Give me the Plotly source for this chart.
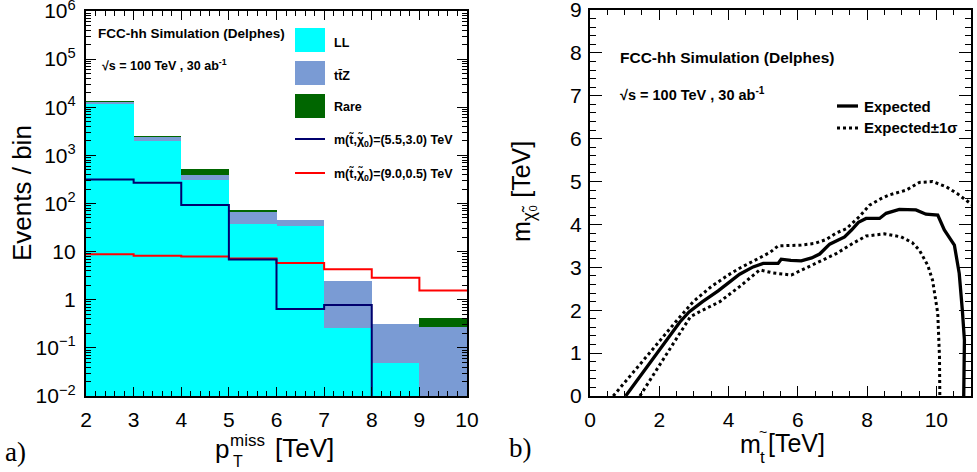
import plotly.graph_objects as go

# ---------------- data: panel a) ----------------
bin_edges = [2, 3, 4, 5, 6, 7, 8, 9, 10]
bin_centers = [2.5, 3.5, 4.5, 5.5, 6.5, 7.5, 8.5, 9.5]
ll_vals = [11700, 1950, 307, 37.3, 33.9, 0.26, 0.049, 0]
ttz_vals = [1300, 500, 93, 32, 11.3, 2.19, 0.26, 0.27]
rare_vals = [300, 60, 125, 2, 0, 0, 0, 0.15]
sig1_vals = [316, 270, 93, 6.9, 0.64, 0.78, 0, 0]       # m(stop,chi0)=(5.5,3.0)
sig2_vals = [8.8, 8.2, 7.9, 7.2, 5.8, 4.3, 2.85, 1.55]  # m(stop,chi0)=(9.0,0.5)
y_tickvals = [0.01, 0.1, 1, 10, 100, 1e3, 1e4, 1e5, 1e6]
y_ticktext = ["10<sup>\u22122</sup>", "10<sup>\u22121</sup>", "1", "10", "10<sup>2</sup>",
              "10<sup>3</sup>", "10<sup>4</sup>", "10<sup>5</sup>", "10<sup>6</sup>"]

# ---------------- data: panel b) ----------------
exp_x = [1.03, 1.6, 2.2, 2.59, 2.86, 3.25, 3.7, 3.99, 4.32, 4.71, 5.0, 5.43, 5.52, 5.8, 6.1,
         6.4, 6.63, 6.92, 7.35, 7.55, 7.75, 7.97, 8.36, 8.55, 8.93, 9.41, 9.7, 10.04, 10.23,
         10.52, 10.66, 10.75, 10.81, 10.79]
exp_y = [0, 0.62, 1.28, 1.72, 1.96, 2.2, 2.45, 2.63, 2.84, 3.01, 3.09, 3.09, 3.19, 3.16, 3.15,
         3.22, 3.31, 3.54, 3.71, 3.87, 4.05, 4.14, 4.14, 4.26, 4.35, 4.34, 4.24, 4.22, 3.87,
         3.52, 2.86, 2.0, 1.3, 0]
up_x = [0.67, 1.2, 1.8, 2.4, 2.98, 3.5, 3.99, 4.32, 4.7, 4.99, 5.2, 5.43, 5.8, 6.1, 6.5, 6.82,
        7.11, 7.4, 7.8, 8.07, 8.4, 8.65, 9.13, 9.51, 9.89, 10.28, 10.6, 10.86, 11.1]
up_y = [0, 0.5, 1.08, 1.66, 2.2, 2.55, 2.82, 2.98, 3.15, 3.26, 3.35, 3.5, 3.51, 3.52, 3.56, 3.65,
        3.8, 3.9, 4.2, 4.45, 4.6, 4.69, 4.8, 4.98, 5.0, 4.88, 4.72, 4.57, 4.42]
dn_x = [1.44, 2.0, 2.5, 2.9, 3.2, 3.55, 3.75, 3.99, 4.32, 4.9, 5.28, 5.81, 6.15, 6.63, 7.11,
        7.59, 7.97, 8.5, 8.98, 9.3, 9.51, 9.75, 9.89, 10.04, 10.09, 10.1]
dn_y = [0, 0.7, 1.32, 1.85, 1.98, 2.12, 2.2, 2.35, 2.55, 2.94, 2.87, 2.82, 2.95, 3.13, 3.32,
        3.56, 3.73, 3.78, 3.71, 3.58, 3.4, 3.05, 2.7, 1.93, 0.92, 0]

# ---------------- helpers ----------------
W, H = 977, 472
def X(px):
    return px / W
def Y(py):
    return 1 - py / H

SANS = "Liberation Sans, Arial, sans-serif"
SERIF = "Liberation Serif, Times New Roman, serif"
CYAN = "#00ffff"
TTZ = "#7a9bd4"
RARE = "#006600"
NAVY = "#00006e"
RED = "#ff0000"

fig = go.Figure()

# stacked histograms (panel a)
for name, vals, col in [("LL", ll_vals, CYAN), ("ttZ", ttz_vals, TTZ), ("Rare", rare_vals, RARE)]:
    fig.add_trace(go.Bar(x=bin_centers, y=vals, width=1, marker=dict(color=col, line=dict(width=0)),
                         name=name, showlegend=False, xaxis="x", yaxis="y"))

def step(vals):
    floor = 1e-4
    v = [val if val > 0 else floor for val in vals]
    return v + [v[-1]]

fig.add_trace(go.Scatter(x=bin_edges, y=step(sig2_vals), mode="lines", line=dict(color=RED, width=2, shape="hv"),
                         showlegend=False, xaxis="x", yaxis="y"))
fig.add_trace(go.Scatter(x=bin_edges, y=step(sig1_vals), mode="lines", line=dict(color=NAVY, width=2, shape="hv"),
                         showlegend=False, xaxis="x", yaxis="y"))

# contours (panel b)
fig.add_trace(go.Scatter(x=up_x, y=up_y, mode="lines", line=dict(color="black", width=3, dash="3px,3px"),
                         showlegend=False, xaxis="x2", yaxis="y2"))
fig.add_trace(go.Scatter(x=dn_x, y=dn_y, mode="lines", line=dict(color="black", width=3, dash="3px,3px"),
                         showlegend=False, xaxis="x2", yaxis="y2"))
fig.add_trace(go.Scatter(x=exp_x, y=exp_y, mode="lines", line=dict(color="black", width=3.3),
                         showlegend=False, xaxis="x2", yaxis="y2"))

tickfont = dict(family=SANS, size=21, color="black")
common = dict(showline=True, linecolor="black", linewidth=2.2, mirror="ticks", ticks="inside",
              tickcolor="black", tickwidth=1.3, showgrid=False, zeroline=False, tickfont=tickfont,
              automargin=False, ticklabeloverflow="allow")

# minor ticks for log axis
minor_log = []
for k in range(-2, 6):
    for m in range(2, 10):
        minor_log.append(m * 10 ** k)

fig.update_layout(
    width=W, height=H, margin=dict(l=0, r=0, t=0, b=0, autoexpand=False),
    paper_bgcolor="white", plot_bgcolor="white", barmode="stack", showlegend=False,
    xaxis=dict(domain=[X(86), X(467)], range=[2, 10], anchor="y", tickmode="array",
               tickvals=list(range(2, 11)), ticklen=9, ticklabelstandoff=4,
               minor=dict(ticks="inside", ticklen=5, dtick=0.2, tickcolor="black", tickwidth=1.3, showgrid=False),
               **common),
    yaxis=dict(domain=[Y(396), Y(11)], type="log", range=[-2, 6.0001], anchor="x", tickmode="array",
               tickvals=y_tickvals, ticktext=y_ticktext, ticklen=10, ticklabelstandoff=4,
               minor=dict(ticks="inside", ticklen=5, tickmode="array", tickvals=minor_log,
                          tickcolor="black", tickwidth=1.3, showgrid=False),
               **common),
    xaxis2=dict(domain=[X(590), X(971)], range=[0, 11], anchor="y2", tickmode="array",
                tickvals=[0, 2, 4, 6, 8, 10], ticklen=10, ticklabelstandoff=4,
                minor=dict(ticks="inside", ticklen=5, dtick=0.5, tickcolor="black", tickwidth=1.3, showgrid=False),
                **common),
    yaxis2=dict(domain=[Y(396), Y(10)], range=[0, 9.0001], anchor="x2", tickmode="array",
                tickvals=list(range(0, 10)), ticklen=12, ticklabelstandoff=2,
                minor=dict(ticks="inside", ticklen=6, dtick=0.2, tickcolor="black", tickwidth=1.3, showgrid=False),
                **common),
)

ann = []
def text(x, y, t, size, xanchor="left", yanchor="middle", family=SANS, angle=0):
    ann.append(dict(x=X(x), y=Y(y), xref="paper", yref="paper", text=t, showarrow=False,
                    xanchor=xanchor, yanchor=yanchor, textangle=angle,
                    font=dict(family=family, size=size, color="black")))

# panel a texts
text(96, 33, "<b>FCC-hh Simulation (Delphes)</b>", 13.5)
text(100, 65, "<b>\u221as = 100 TeV , 30 ab<sup>-1</sup></b>", 12.5)
text(22, 193, "Events / bin", 26, xanchor="center", angle=-90)
text(213, 449, "p", 26)
text(228, 440, "miss", 17)
text(231, 461, "T", 16)
text(273, 448, "[TeV]", 26)
text(15, 452, "a)", 27, xanchor="center", family=SERIF)

# panel a legend
shapes = []
leg_boxes = [(28, 52, CYAN, "LL", 43), (61, 85, TTZ, "tt\u0304Z", 76), (94, 118, RARE, "Rare", 107)]
for y0, y1, col, lab, ty in leg_boxes:
    shapes.append(dict(type="rect", xref="paper", yref="paper", x0=X(295), x1=X(325), y0=Y(y1), y1=Y(y0),
                       fillcolor=col, line=dict(width=0)))
    text(332, ty, "<b>%s</b>" % lab, 12.5)
for yy, col, lab in [(139, NAVY, "m(t\u0303,\u03c7\u0303<sub>0</sub>)=(5.5,3.0) TeV"),
                     (173, RED, "m(t\u0303,\u03c7\u0303<sub>0</sub>)=(9.0,0.5) TeV")]:
    shapes.append(dict(type="line", xref="paper", yref="paper", x0=X(295), x1=X(325), y0=Y(yy), y1=Y(yy),
                       line=dict(color=col, width=2)))
    text(332, yy + 1, "<b>%s</b>" % lab, 12.5)

# panel b texts
text(618, 57, "<b>FCC-hh Simulation (Delphes)</b>", 15.5)
text(618, 94, "<b>\u221as = 100 TeV , 30 ab<sup>-1</sup></b>", 14.5)
text(523, 192, "m<sub>\u03c7\u0303\u2080</sub> [TeV]", 25, xanchor="center", angle=-90)
text(738, 444, "m", 25)
text(757, 432, "~", 14)
text(758, 457, "t", 17)
text(766, 443, "[TeV]", 25)
text(520, 448, "b)", 27, xanchor="center", family=SERIF)

# panel b legend
shapes.append(dict(type="line", xref="paper", yref="paper", x0=X(837), x1=X(858), y0=Y(106), y1=Y(106),
                   line=dict(color="black", width=3.3)))
shapes.append(dict(type="line", xref="paper", yref="paper", x0=X(837), x1=X(858), y0=Y(128), y1=Y(128),
                   line=dict(color="black", width=3, dash="3px,3px")))
text(862, 106, "<b>Expected</b>", 15)
text(862, 128, "<b>Expected\u00b11\u03c3</b>", 15)

fig.update_layout(annotations=ann, shapes=shapes)
fig.write_html("out.html", config={"displayModeBar": False},
               post_script="document.body.style.margin='0';document.body.style.padding='0';"
                           "document.documentElement.style.overflow='hidden';")
